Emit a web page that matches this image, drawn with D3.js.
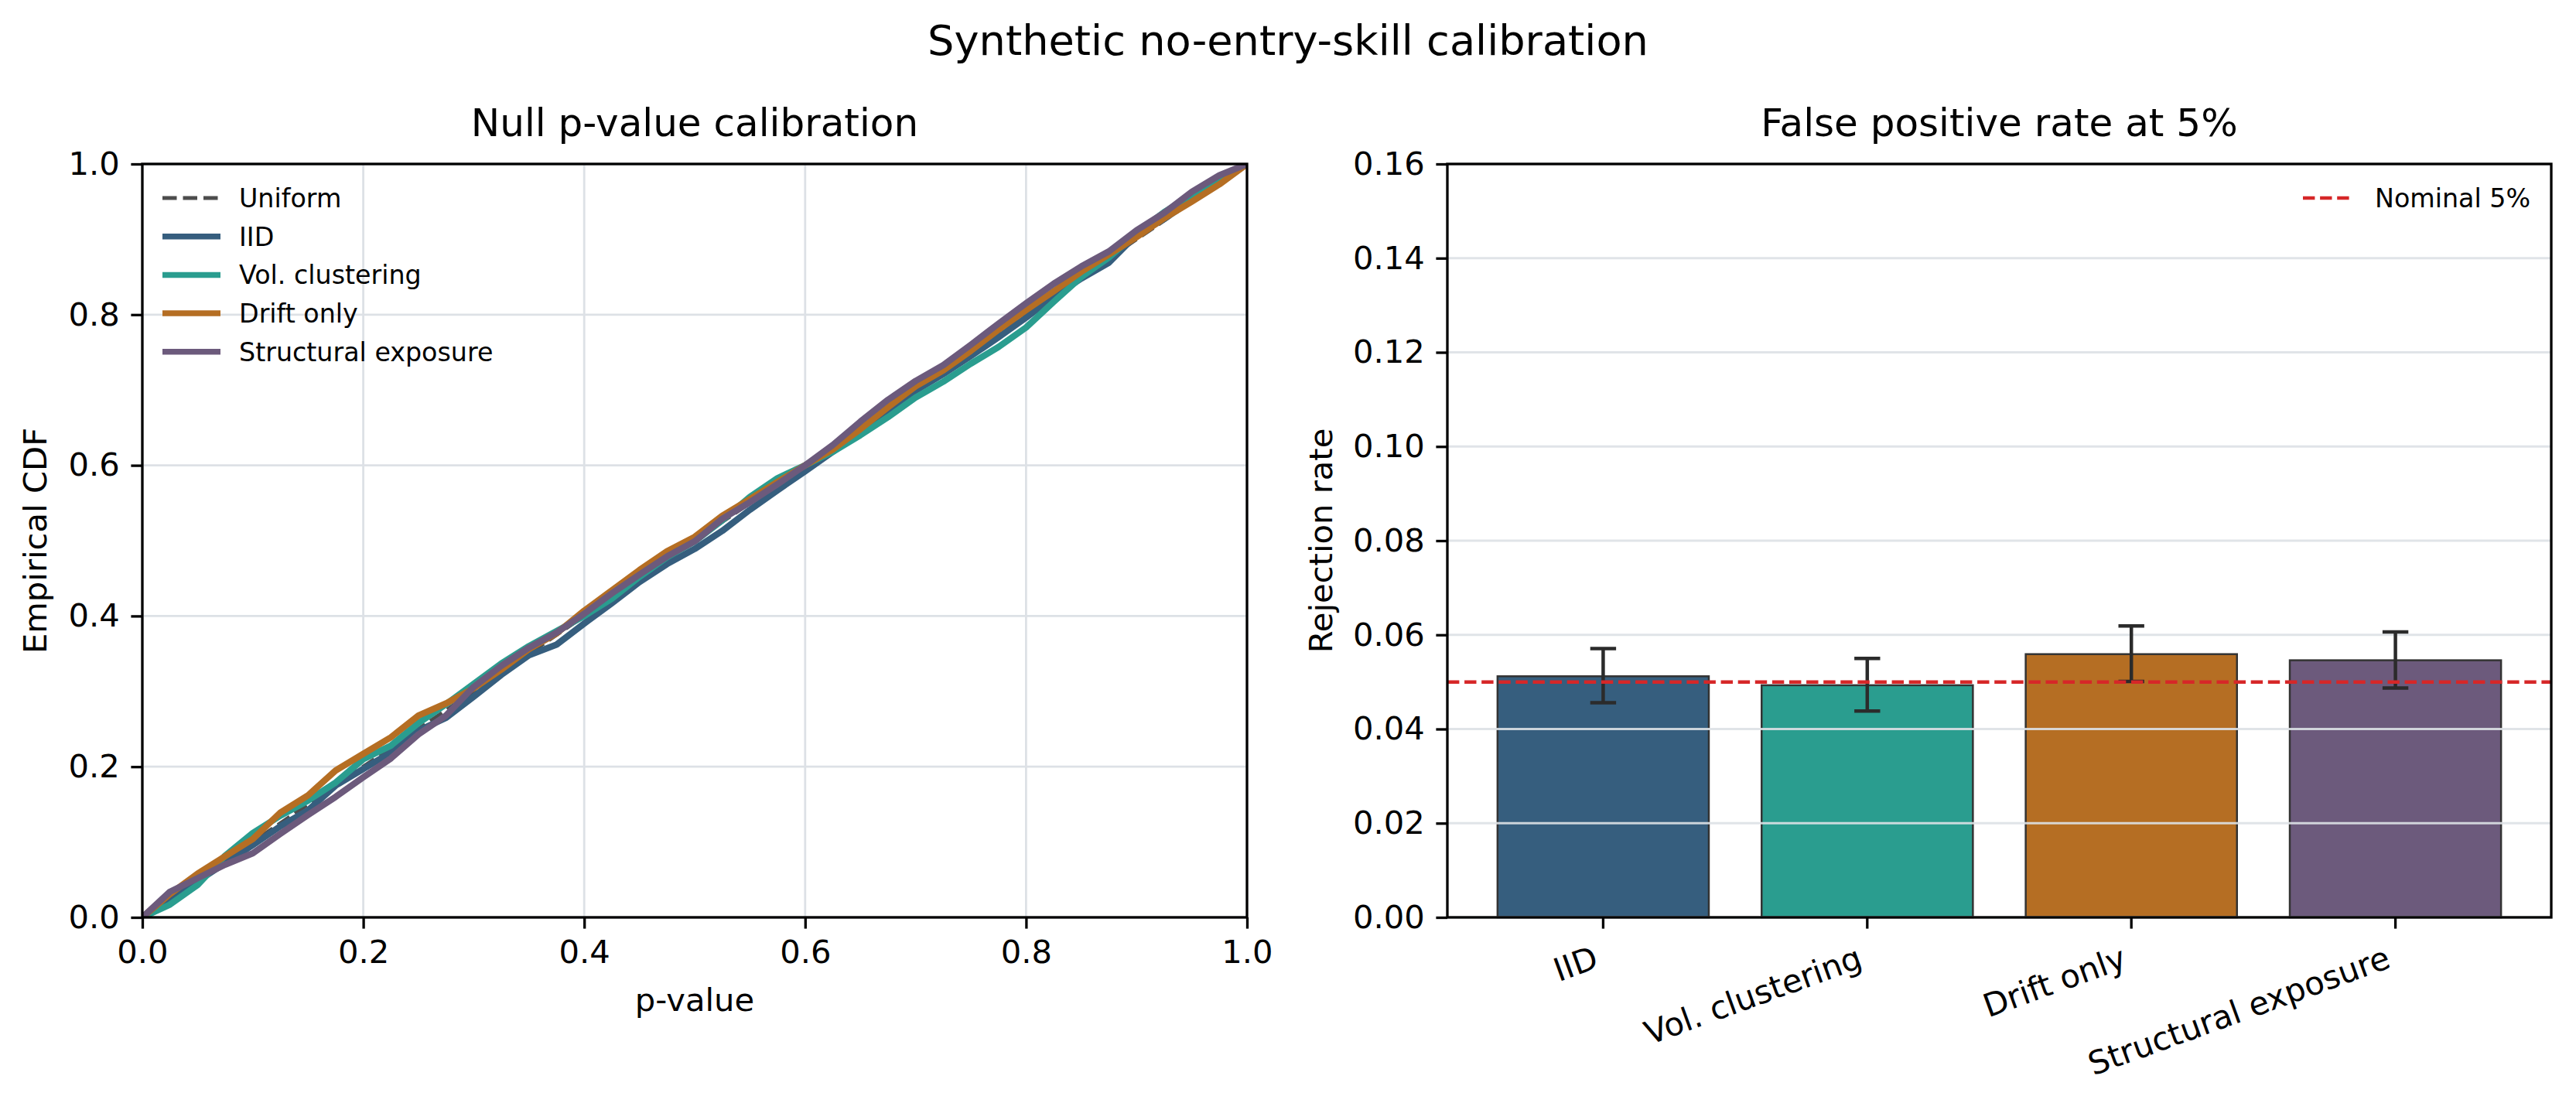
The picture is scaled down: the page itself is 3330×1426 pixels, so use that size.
<!DOCTYPE html>
<html>
<head>
<meta charset="utf-8">
<script src="https://cdn.jsdelivr.net/npm/d3@7"></script>
<style>
  body { margin: 0; background: #fff; }
  text { font-family: "DejaVu Sans", sans-serif; }
</style>
</head>
<body>
<div class="fig"></div>
<script>
// ---- data ----
var pGrid = [0, 0.025, 0.05, 0.075, 0.1, 0.125, 0.15, 0.175, 0.2, 0.225, 0.25, 0.275, 0.3, 0.325,
  0.35, 0.375, 0.4, 0.425, 0.45, 0.475, 0.5, 0.525, 0.55, 0.575, 0.6, 0.625, 0.65, 0.675,
  0.7, 0.725, 0.75, 0.775, 0.8, 0.825, 0.85, 0.875, 0.9, 0.925, 0.95, 0.975, 1];

var ecdfIID = [0, 0.024, 0.048, 0.072, 0.096, 0.121, 0.142, 0.175, 0.197, 0.219, 0.248, 0.265, 0.293, 0.322,
  0.348, 0.362, 0.39, 0.417, 0.445, 0.469, 0.489, 0.513, 0.541, 0.567, 0.592, 0.618, 0.644, 0.671,
  0.699, 0.721, 0.745, 0.77, 0.796, 0.824, 0.848, 0.869, 0.906, 0.927, 0.952, 0.975, 1];

var ecdfVol = [0, 0.017, 0.043, 0.082, 0.112, 0.135, 0.155, 0.179, 0.21, 0.228, 0.258, 0.283, 0.31, 0.337,
  0.36, 0.38, 0.4, 0.423, 0.452, 0.478, 0.499, 0.527, 0.558, 0.583, 0.6, 0.618, 0.64, 0.664,
  0.69, 0.711, 0.735, 0.757, 0.783, 0.817, 0.85, 0.876, 0.908, 0.936, 0.959, 0.982, 1];

var ecdfDrift = [0, 0.031, 0.058, 0.081, 0.104, 0.139, 0.162, 0.195, 0.217, 0.239, 0.268, 0.284, 0.304, 0.329,
  0.356, 0.377, 0.407, 0.434, 0.461, 0.486, 0.505, 0.533, 0.555, 0.578, 0.6, 0.621, 0.648, 0.677,
  0.705, 0.726, 0.752, 0.78, 0.806, 0.831, 0.857, 0.88, 0.903, 0.928, 0.95, 0.973, 1];

var ecdfStruct = [0, 0.034, 0.052, 0.07, 0.085, 0.111, 0.136, 0.16, 0.186, 0.211, 0.243, 0.268, 0.306, 0.334,
  0.358, 0.378, 0.403, 0.43, 0.455, 0.479, 0.499, 0.529, 0.551, 0.575, 0.6, 0.627, 0.658, 0.687,
  0.712, 0.733, 0.76, 0.788, 0.815, 0.841, 0.864, 0.884, 0.912, 0.935, 0.963, 0.985, 1];

var scenarios = ["IID", "Vol. clustering", "Drift only", "Structural exposure"];
var rejectRate = [0.0512, 0.0493, 0.0559, 0.0546];
var ciLow = [0.0456, 0.0438, 0.0501, 0.0487];
var ciHigh = [0.0571, 0.0550, 0.0619, 0.0606];
var nominal = 0.05;

var pTicks = [0, 0.2, 0.4, 0.6, 0.8, 1.0];
var rateTicks = [0, 0.02, 0.04, 0.06, 0.08, 0.10, 0.12, 0.14, 0.16];

// ---- styling ----
var palette = ["#365e7e", "#2a9d8f", "#b56e23", "#6c5a7c"];
var tickFont = 41.7, legendFont = 33.3, titleFont = 50;
var gridColor = "#dde1e6";

var svg = d3.select(".fig")
            .append("svg")
            .attr("width", 3330)
            .attr("height", 1426)
            .style("background", "#fff");

svg.append("text")
   .attr("x", 1665)
   .attr("y", 71)
   .attr("text-anchor", "middle")
   .attr("font-size", 54.2)
   .text("Synthetic no-entry-skill calibration");

function styleAxis(g) {
  g.select(".domain").remove();
  g.selectAll(".tick line").attr("stroke", "#000").attr("stroke-width", 3.3);
  g.selectAll(".tick text")
   .attr("font-size", tickFont)
   .attr("font-family", "DejaVu Sans")
   .attr("fill", "#000");
}

/**
 * Left panel: ECDF of null p-values
 */
var L = { x0: 184, x1: 1612, y0: 212, y1: 1186 };
var xP = d3.scaleLinear().domain([0, 1]).range([L.x0, L.x1]);
var yP = d3.scaleLinear().domain([0, 1]).range([L.y1, L.y0]);

var left = svg.append("g");

left.append("clipPath").attr("id", "clipL")
    .append("rect")
    .attr("x", L.x0).attr("y", L.y0)
    .attr("width", L.x1 - L.x0).attr("height", L.y1 - L.y0);

// grid
left.append("g")
    .selectAll("line.v")
    .data(pTicks)
    .enter()
    .append("line")
    .attr("x1", function(d) { return xP(d); })
    .attr("x2", function(d) { return xP(d); })
    .attr("y1", L.y0).attr("y2", L.y1)
    .attr("stroke", gridColor).attr("stroke-width", 2.8);

left.append("g")
    .selectAll("line.h")
    .data(pTicks)
    .enter()
    .append("line")
    .attr("y1", function(d) { return yP(d); })
    .attr("y2", function(d) { return yP(d); })
    .attr("x1", L.x0).attr("x2", L.x1)
    .attr("stroke", gridColor).attr("stroke-width", 2.8);

var lines = left.append("g").attr("clip-path", "url(#clipL)");

// uniform reference
lines.append("path")
     .datum([0, 1])
     .attr("d", d3.line().x(function(d) { return xP(d); }).y(function(d) { return yP(d); }))
     .attr("fill", "none")
     .attr("stroke", "#4d4d4d")
     .attr("stroke-width", 5)
     .attr("stroke-dasharray", "18.5,8");

var ecdfLine = d3.line()
                 .x(function(d, i) { return xP(pGrid[i]); })
                 .y(function(d) { return yP(d); });

var series = [ecdfIID, ecdfVol, ecdfDrift, ecdfStruct];

lines.selectAll("path.ecdf")
     .data(series)
     .enter()
     .append("path")
     .attr("class", "ecdf")
     .attr("d", ecdfLine)
     .attr("fill", "none")
     .attr("stroke", function(d, i) { return palette[i]; })
     .attr("stroke-width", 8.3)
     .attr("stroke-linejoin", "round");

// spines
left.append("rect")
    .attr("x", L.x0).attr("y", L.y0)
    .attr("width", L.x1 - L.x0).attr("height", L.y1 - L.y0)
    .attr("fill", "none").attr("stroke", "#000").attr("stroke-width", 3.3);

left.append("g")
    .attr("transform", "translate(0," + L.y1 + ")")
    .call(d3.axisBottom(xP).tickValues(pTicks).tickFormat(d3.format(".1f"))
            .tickSizeInner(14.6).tickSizeOuter(0).tickPadding(14.6))
    .call(styleAxis);

left.append("g")
    .attr("transform", "translate(" + L.x0 + ",0)")
    .call(d3.axisLeft(yP).tickValues(pTicks).tickFormat(d3.format(".1f"))
            .tickSizeInner(14.6).tickSizeOuter(0).tickPadding(14.6))
    .call(styleAxis);

left.append("text")
    .attr("x", (L.x0 + L.x1) / 2).attr("y", 1307)
    .attr("text-anchor", "middle").attr("font-size", tickFont)
    .text("p-value");

left.append("text")
    .attr("transform", "translate(60," + ((L.y0 + L.y1) / 2) + ") rotate(-90)")
    .attr("text-anchor", "middle").attr("font-size", tickFont)
    .text("Empirical CDF");

left.append("text")
    .attr("x", (L.x0 + L.x1) / 2).attr("y", 176)
    .attr("text-anchor", "middle").attr("font-size", titleFont)
    .text("Null p-value calibration");

// legend
var legendLabels = ["Uniform"].concat(scenarios);
var legL = left.append("g")
               .selectAll("g")
               .data(legendLabels)
               .enter()
               .append("g")
               .attr("transform", function(d, i) { return "translate(0," + (256 + i * 49.7) + ")"; });

legL.append("line")
    .attr("x1", 210).attr("x2", 285)
    .attr("stroke", function(d, i) { return i === 0 ? "#4d4d4d" : palette[i - 1]; })
    .attr("stroke-width", function(d, i) { return i === 0 ? 5 : 7.5; })
    .attr("stroke-dasharray", function(d, i) { return i === 0 ? "18.5,8" : null; });

legL.append("text")
    .attr("x", 309).attr("y", 12)
    .attr("font-size", legendFont)
    .text(function(d) { return d; });

/**
 * Right panel: rejection rate bars
 */
var R = { x0: 1871, x1: 3298, y0: 212, y1: 1186 };
var xB = d3.scaleBand()
           .domain(scenarios)
           .range([R.x0, R.x1])
           .paddingInner(0.2)
           .paddingOuter(0.19);
var yB = d3.scaleLinear().domain([0, 0.16]).range([R.y1, R.y0]);

var right = svg.append("g");

right.append("g")
     .selectAll("rect")
     .data(scenarios)
     .enter()
     .append("rect")
     .attr("x", function(d) { return xB(d); })
     .attr("width", xB.bandwidth())
     .attr("y", function(d, i) { return yB(rejectRate[i]); })
     .attr("height", function(d, i) { return R.y1 - yB(rejectRate[i]); })
     .attr("fill", function(d, i) { return palette[i]; })
     .attr("stroke", "#333")
     .attr("stroke-width", 2.5);

// grid above bars, below lines
right.append("g")
     .selectAll("line")
     .data(rateTicks)
     .enter()
     .append("line")
     .attr("y1", function(d) { return yB(d); })
     .attr("y2", function(d) { return yB(d); })
     .attr("x1", R.x0).attr("x2", R.x1)
     .attr("stroke", gridColor).attr("stroke-width", 2.8)
     .attr("stroke-opacity", 0.9);

// error bars
var eb = right.append("g")
              .selectAll("g")
              .data(scenarios)
              .enter()
              .append("g")
              .attr("stroke", "#2b2b2b");

eb.append("line")
  .attr("x1", function(d) { return xB(d) + xB.bandwidth() / 2; })
  .attr("x2", function(d) { return xB(d) + xB.bandwidth() / 2; })
  .attr("y1", function(d, i) { return yB(ciLow[i]); })
  .attr("y2", function(d, i) { return yB(ciHigh[i]); })
  .attr("stroke-width", 4.5);

[ciLow, ciHigh].forEach(function(arr) {
  eb.append("line")
    .attr("x1", function(d) { return xB(d) + xB.bandwidth() / 2 - 16.7; })
    .attr("x2", function(d) { return xB(d) + xB.bandwidth() / 2 + 16.7; })
    .attr("y1", function(d, i) { return yB(arr[i]); })
    .attr("y2", function(d, i) { return yB(arr[i]); })
    .attr("stroke-width", 4.5);
});

// nominal level
right.append("line")
     .attr("x1", R.x0).attr("x2", R.x1)
     .attr("y1", yB(nominal)).attr("y2", yB(nominal))
     .attr("stroke", "#d62728")
     .attr("stroke-width", 4.5)
     .attr("stroke-dasharray", "15.4,6.7");

right.append("rect")
     .attr("x", R.x0).attr("y", R.y0)
     .attr("width", R.x1 - R.x0).attr("height", R.y1 - R.y0)
     .attr("fill", "none").attr("stroke", "#000").attr("stroke-width", 3.3);

right.append("g")
     .attr("transform", "translate(" + R.x0 + ",0)")
     .call(d3.axisLeft(yB).tickValues(rateTicks).tickFormat(d3.format(".2f"))
             .tickSizeInner(14.6).tickSizeOuter(0).tickPadding(14.6))
     .call(styleAxis);

var xAxisR = right.append("g")
                  .attr("transform", "translate(0," + R.y1 + ")")
                  .call(d3.axisBottom(xB).tickSizeInner(14.6).tickSizeOuter(0).tickPadding(14.6))
                  .call(styleAxis);

// rotated 20 degrees, right-aligned at the tick
xAxisR.selectAll(".tick text")
      .attr("text-anchor", "end")
      .attr("y", null)
      .attr("dy", null)
      .attr("transform", "translate(-15.4,33) rotate(-20) translate(0,33)");

right.append("text")
     .attr("transform", "translate(1722," + ((R.y0 + R.y1) / 2) + ") rotate(-90)")
     .attr("text-anchor", "middle").attr("font-size", tickFont)
     .text("Rejection rate");

right.append("text")
     .attr("x", (R.x0 + R.x1) / 2).attr("y", 176)
     .attr("text-anchor", "middle").attr("font-size", titleFont)
     .text("False positive rate at 5%");

right.append("line")
     .attr("x1", 2977).attr("x2", 3043)
     .attr("y1", 256).attr("y2", 256)
     .attr("stroke", "#d62728").attr("stroke-width", 4.5)
     .attr("stroke-dasharray", "15.4,6.7");

right.append("text")
     .attr("x", 3070).attr("y", 268)
     .attr("font-size", legendFont)
     .text("Nominal 5%");
</script>
</body>
</html>
